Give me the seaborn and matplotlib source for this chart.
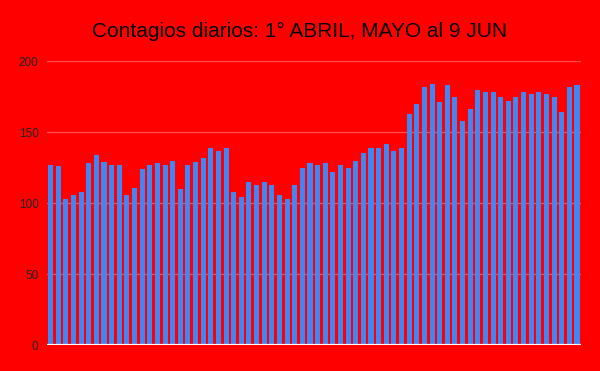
import numpy as np
import pandas as pd
import matplotlib
matplotlib.use("Agg")
import matplotlib.pyplot as plt
import seaborn as sns

# Daily cases: 1 April .. 9 June
abril = [127, 126, 103, 106, 108, 128, 134, 129, 127, 127,
         106, 111, 124, 127, 128, 127, 130, 110, 127, 129,
         132, 139, 137, 139, 108, 104, 115, 113, 115, 113]
mayo = [106, 103, 113, 125, 128, 127, 128, 122, 127, 125,
        130, 135, 139, 139, 142, 137, 139, 163, 170, 182,
        184, 171, 183, 175, 158, 166, 180, 178, 178, 175,
        172]
junio = [175, 178, 177, 178, 177, 175, 164, 182, 183]

casos = abril + mayo + junio
dias = list(range(len(casos)))
y_ticks = [0, 50, 100, 150, 200]

sns.set_theme(style="white")
plt.rcParams['font.family'] = ['Liberation Sans', 'DejaVu Sans']

fig, ax = plt.subplots(figsize=(6, 3.71), dpi=100)
fig.patch.set_facecolor('#ff0000')
ax.set_facecolor('#ff0000')

df = pd.DataFrame({'dia': dias, 'casos': casos})
sns.barplot(data=df, x='dia', y='casos', color='#4285f4', saturation=1,
            width=0.66, linewidth=0, ax=ax, zorder=3)

ax.set_ylim(0, 200)
ax.set_xlim(-0.5, len(casos) - 0.5)
ax.set_yticks(y_ticks)
ax.set_yticklabels([str(t) for t in y_ticks], fontsize=8.5, color='#222222')
ax.set_xticks([])
ax.set_xlabel('')
ax.set_ylabel('')
ax.tick_params(axis='y', length=0, pad=6)
for t in y_ticks[1:]:
    ax.axhline(t, color='#ff5050', lw=0.9, zorder=1)
ax.axhline(0, color='white', lw=1.6, zorder=4)
for s in ax.spines.values():
    s.set_visible(False)

fig.suptitle('Contagios diarios: 1° ABRIL, MAYO al 9 JUN', fontsize=15,
             color='black', y=0.94)
fig.subplots_adjust(left=0.078, right=0.968, top=0.835, bottom=0.07)

fig.savefig('out.png', dpi=100, facecolor=fig.get_facecolor())
